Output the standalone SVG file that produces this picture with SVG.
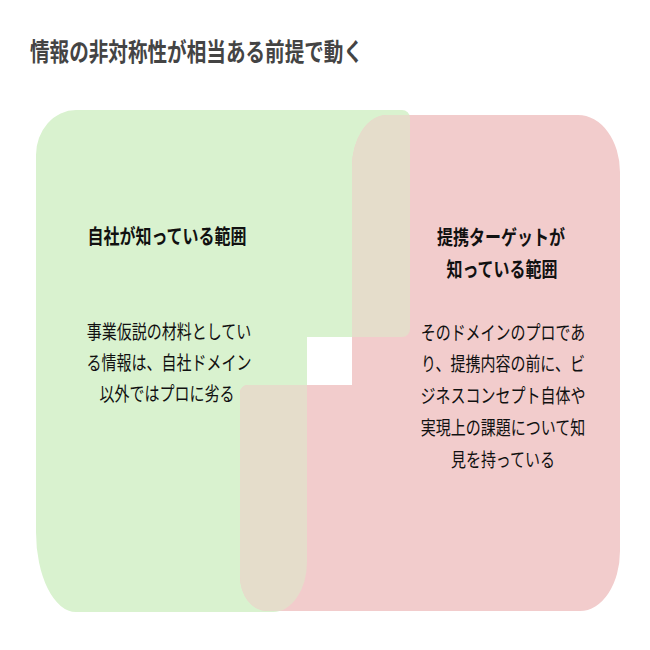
<svg xmlns="http://www.w3.org/2000/svg" width="650" height="650" viewBox="0 0 650 650">
<style>
.t{font-family:"Noto Sans CJK JP","Noto Sans CJK SC",sans-serif;fill:#111;text-anchor:middle}
.h{font-size:16px;font-weight:bold}
.b{font-size:15px}
.title{font-family:"Noto Sans CJK JP","Noto Sans CJK SC",sans-serif;font-size:19.6px;font-weight:bold;fill:#444}
</style>
<defs>
<path id="gp" d="M36,155 A40,45 0 0 1 76,110 L402,110 A8,8 0 0 1 410,118 L410,329 A8,8 0 0 1 402,337 L307,337 L307,562 A34,50 0 0 1 273,612 L76,612 A40,80 0 0 1 36,532 Z"/>
<path id="pp" d="M352,167 A35,52 0 0 1 387,115 L578,115 A42,57 0 0 1 620,172 L620,551 A40,60 0 0 1 580,611 L267,611 A27,35 0 0 1 240,576 L240,393 A8,8 0 0 1 248,385 L352,385 Z"/>
<clipPath id="pc"><use href="#pp"/></clipPath>
</defs>
<rect width="650" height="650" fill="#fff"/>
<g id="title"><text class="title" transform="scale(1,1.3)" x="30" y="46.9">情報の非対称性が相当ある前提で動く</text></g>
<g id="own">
<use href="#gp" fill="#d9f2cf"/>
</g>
<g id="partner">
<use href="#pp" fill="#f2cccc"/>
</g>
<g id="overlap">
<use href="#gp" fill="#e5ddcb" clip-path="url(#pc)"/>
</g>
<g id="own-text" transform="scale(1,1.3)">
<text class="t h" x="167" y="187.7">自社が知っている範囲</text>
<text class="t b" x="169" y="260.8">事業仮説の材料としてい</text>
<text class="t b" x="169" y="284.6">る情報は、自社ドメイン</text>
<text class="t b" x="167" y="308.5">以外ではプロに劣る</text>
</g>
<g id="partner-text" transform="scale(1,1.3)">
<text class="t h" x="501" y="188.5">提携ターゲットが</text>
<text class="t h" x="502" y="213">知っている範囲</text>
<text class="t b" x="503" y="261.5">そのドメインのプロであ</text>
<text class="t b" x="503" y="285.4">り、提携内容の前に、ビ</text>
<text class="t b" x="503" y="310">ジネスコンセプト自体や</text>
<text class="t b" x="503" y="334.6">実現上の課題について知</text>
<text class="t b" x="503" y="359.2">見を持っている</text>
</g>
</svg>
